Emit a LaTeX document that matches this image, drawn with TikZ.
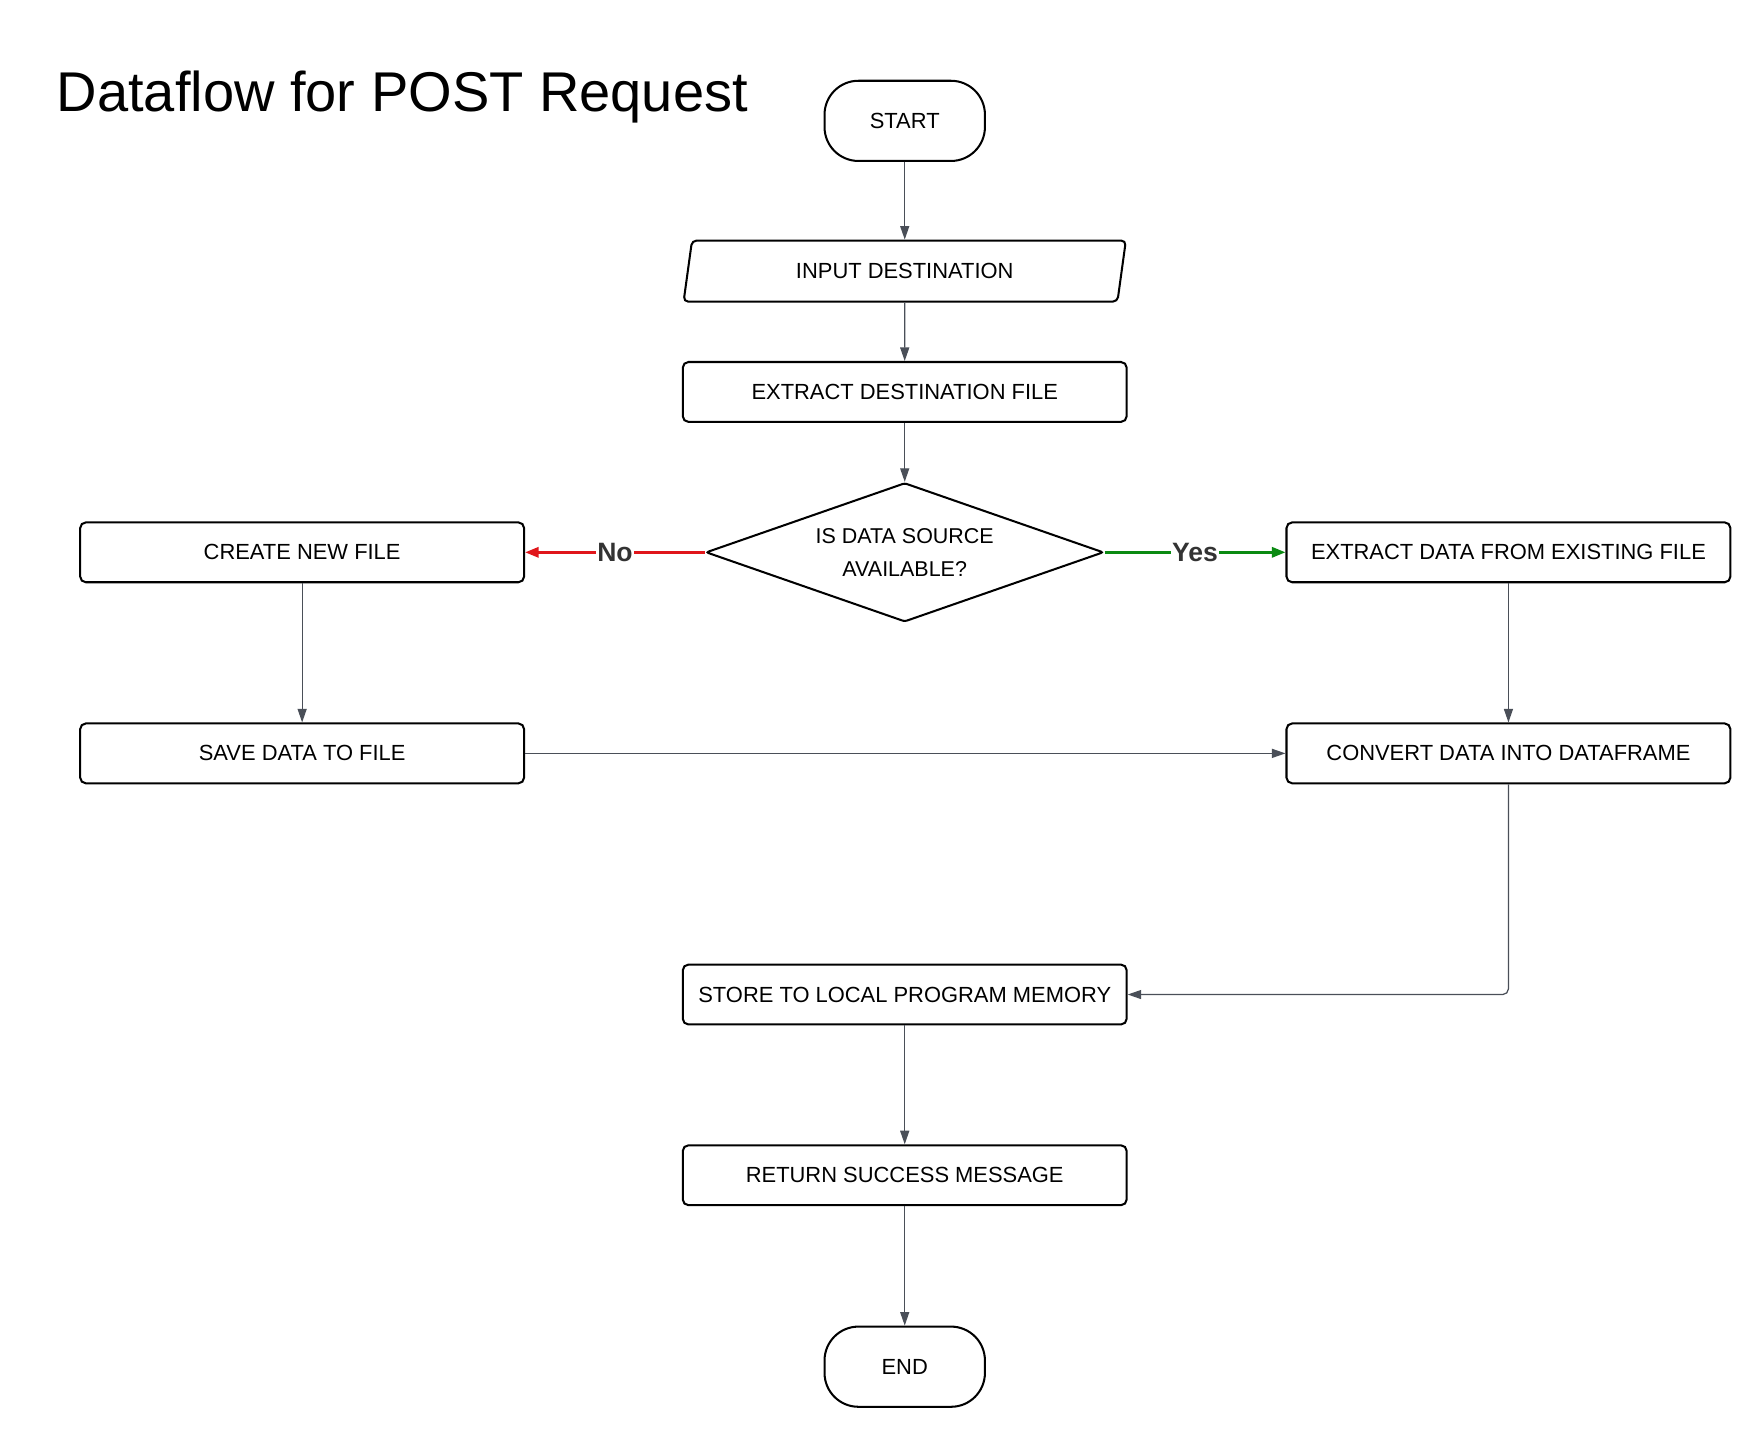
\documentclass[tikz,border=0pt]{standalone}
\usepackage{fontspec}
\setmainfont{Liberation Sans}
\usetikzlibrary{arrows.meta,shapes.geometric,calc}
\definecolor{linegray}{HTML}{4A4F58}
\definecolor{noRed}{HTML}{E0161B}
\definecolor{yesGreen}{HTML}{0A8A12}
\definecolor{lblGray}{HTML}{333333}
\begin{document}
\begin{tikzpicture}[x=1pt,y=-1pt,
  box/.style={draw=black, line width=1.8pt, rounded corners=5pt, minimum width=393pt,
    minimum height=53pt, inner sep=0pt, font=\fontsize{19.4}{23}\selectfont},
  term/.style={box, minimum width=142pt, minimum height=71pt, rounded corners=30pt},
  iobox/.style={box, trapezium, trapezium left angle=74.5, trapezium right angle=105.5,
    trapezium stretches=true, minimum width=392pt, minimum height=54pt, rounded corners=4pt},
  decision/.style={draw=black, line width=1.8pt, diamond, aspect=2.86, minimum width=352pt, minimum height=123pt,
    inner sep=0pt, rounded corners=2pt, align=center, font=\fontsize{19}{29}\selectfont},
  flow/.style={draw=linegray, line width=1.1pt, -{Triangle[length=12pt,width=8pt]}},
  noflow/.style={draw=noRed, line width=2.4pt, -{Triangle[length=12pt,width=9pt]}},
  yesflow/.style={draw=yesGreen, line width=2.4pt, -{Triangle[length=12pt,width=9pt]}},
  lbl/.style={fill=white, inner sep=1pt, text=lblGray, font=\bfseries\fontsize{23.5}{28}\selectfont},
  titletext/.style={anchor=base west, inner sep=0pt, font=\fontsize{49.6}{56}\selectfont}
]
\useasboundingbox (0,0) rectangle (1560,1275);

\node[titletext] (title) at (50,99) {Dataflow for POST Request};

\node[term] (start) at (801,107) {START};
\node[iobox] (inp) at (801,240) {INPUT DESTINATION};
\node[box] (extf) at (801,347) {EXTRACT DESTINATION FILE};
\node[decision] (dec) at (801,489) {IS DATA SOURCE\\AVAILABLE?};
\node[box] (create) at (267.5,489) {CREATE NEW FILE};
\node[box] (extd) at (1335.5,489) {EXTRACT DATA FROM EXISTING FILE};
\node[box] (save) at (267.5,667) {SAVE DATA TO FILE};
\node[box] (conv) at (1335.5,667) {CONVERT DATA INTO DATAFRAME};
\node[box] (store) at (801,880.5) {STORE TO LOCAL PROGRAM MEMORY};
\node[box] (ret) at (801,1040.5) {RETURN SUCCESS MESSAGE};
\node[term] (fin) at (801,1210) {END};

\draw[flow] (start) -- (inp);
\draw[flow] (inp) -- (extf);
\draw[flow] (extf) -- (dec);
\draw[noflow] (dec.west) -- node[lbl] {No} (create.east);
\draw[yesflow] (dec.east) -- node[lbl] {Yes} (extd.west);
\draw[flow] (create) -- (save);
\draw[flow] (extd) -- (conv);
\draw[flow] (save.east) -- (conv.west);
\draw[flow, rounded corners=5pt] (conv.south) |- (store.east);
\draw[flow] (store) -- (ret);
\draw[flow] (ret) -- (fin);
\end{tikzpicture}
\end{document}
